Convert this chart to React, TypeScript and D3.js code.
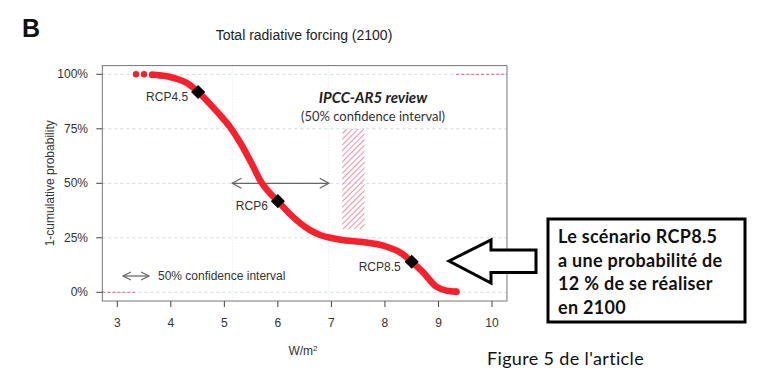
import * as d3 from 'd3';

// 1 - cumulative probability of total radiative forcing in 2100 (W/m²)
const forcing = [3.35, 3.5, 3.65, 3.8, 3.95, 4.1, 4.3, 4.51, 4.7, 4.9, 5.1, 5.3, 5.5, 5.69, 5.85, 6.0, 6.2, 6.4, 6.6, 6.8, 7.0, 7.2, 7.53, 8.03, 8.3, 8.5, 8.7, 8.96, 9.15, 9.33];
const prob = [1.0, 1.0, 0.998, 0.995, 0.99, 0.98, 0.96, 0.919, 0.872, 0.818, 0.76, 0.685, 0.595, 0.505, 0.455, 0.418, 0.365, 0.32, 0.285, 0.262, 0.249, 0.24, 0.232, 0.209, 0.18, 0.14, 0.095, 0.026, 0.008, 0.003];

const rcpNames = ['RCP4.5', 'RCP6', 'RCP8.5'];
const rcpX = [4.51, 6.0, 8.5];
const rcpY = [0.919, 0.418, 0.14];

const xTicks = [3, 4, 5, 6, 7, 8, 9, 10];
const yTicks = [0, 0.25, 0.5, 0.75, 1];

const ciLow = 5.15, ciHigh = 6.95;       // 50% CI of the distribution
const ipccLow = 7.2, ipccHigh = 7.62;    // IPCC-AR5 50% CI
const ipccTop = 0.75, ipccBottom = 0.29;

const boxLines = ['Le scénario RCP8.5', 'a une probabilité de', '12 % de se réaliser', 'en 2100'];

const W = 758, H = 374;
const x = d3.scaleLinear().domain([3, 10]).range([117.3, 492]);
const y = d3.scaleLinear().domain([0, 1]).range([292.3, 74.3]);

const RED = '#fb1f2c';
const TXT = '#333';
const AX = "'Liberation Sans', Arial, sans-serif";
const CAL = "Lato, 'Open Sans', sans-serif";

export default function App() {
  const left = x(2.72), right = x(10.28), top = y(1.04), bottom = y(-0.04);
  const pts = forcing.map((f, i) => [f, prob[i]] as [number, number]);
  const line = d3.line<[number, number]>()
    .x(d => x(d[0]))
    .y(d => y(d[1]))
    .curve(d3.curveMonotoneX);

  const arrowY = y(0.5);
  const head = (px: number, dir: number) =>
    `M${px + dir * 9},${arrowY - 5}L${px},${arrowY}L${px + dir * 9},${arrowY + 5}`;

  return (
    <svg width={W} height={H} style={{ position: 'absolute', left: 0, top: 0, background: '#fff' }}>
      <defs>
        <pattern id="hatch" width="4" height="4" patternUnits="userSpaceOnUse" patternTransform="rotate(45)">
          <line x1="0" y1="0" x2="0" y2="4" stroke="#f4738a" strokeWidth="1.6" />
        </pattern>
      </defs>

      <text x={22} y={37} fontFamily={AX} fontWeight="bold" fontSize={25} fill="#111">B</text>
      <text x={304} y={40} fontFamily={AX} fontSize={14} fill="#222" textAnchor="middle">
        Total radiative forcing (2100)
      </text>

      {/* grid */}
      {yTicks.map(t => (
        <line key={'g' + t} x1={left} x2={right} y1={y(t)} y2={y(t)}
          stroke="#cfdbe3" strokeWidth={1} strokeDasharray="3,3" />
      ))}
      {[ciLow, ciHigh].map(v => (
        <line key={'v' + v} x1={x(v)} x2={x(v)} y1={top} y2={bottom}
          stroke="#dde3e8" strokeWidth={1} strokeDasharray="1,2" />
      ))}

      {/* dotted extensions of the curve */}
      <line x1={left} x2={x(forcing[0])} y1={y(0)} y2={y(0)} stroke="#f4788e" strokeWidth={1.3} strokeDasharray="3,2" />
      <line x1={x(forcing[forcing.length - 1])} x2={right} y1={y(1)} y2={y(1)} stroke="#f4788e" strokeWidth={1.3} strokeDasharray="3,2" />

      {/* IPCC hatched interval */}
      <rect x={x(ipccLow)} y={y(ipccTop)} width={x(ipccHigh) - x(ipccLow)} height={y(ipccBottom) - y(ipccTop)}
        fill="url(#hatch)" />

      {/* 50% CI arrow */}
      <line x1={x(ciLow)} x2={x(ciHigh)} y1={arrowY} y2={arrowY} stroke="#666" strokeWidth={1.3} />
      <path d={head(x(ciLow), 1)} fill="none" stroke="#666" strokeWidth={1.3} />
      <path d={head(x(ciHigh), -1)} fill="none" stroke="#666" strokeWidth={1.3} />

      {/* curve */}
      <path d={line(pts.slice(2)) ?? ''} fill="none" stroke={RED} strokeWidth={6.5} strokeLinecap="round" strokeLinejoin="round" />
      {pts.slice(0, 4).map((p, i) => (
        <circle key={'c' + i} cx={x(p[0])} cy={y(p[1])} r={3.2} fill={RED} />
      ))}
      <circle cx={x(forcing[forcing.length - 1])} cy={y(prob[prob.length - 1])} r={3.5} fill={RED} />

      {/* RCP markers */}
      {rcpX.map((v, i) => (
        <rect key={'d' + i} x={x(v) - 5} y={y(rcpY[i]) - 5} width={10} height={10} fill="#000"
          transform={`rotate(45 ${x(v)} ${y(rcpY[i])})`} />
      ))}
      <text x={x(rcpX[0]) - 10} y={y(rcpY[0]) + 9} fontFamily={AX} fontSize={12} fill={TXT} textAnchor="end">{rcpNames[0]}</text>
      <text x={x(rcpX[1]) - 10} y={y(rcpY[1]) + 9} fontFamily={AX} fontSize={12} fill={TXT} textAnchor="end">{rcpNames[1]}</text>
      <text x={x(rcpX[2]) - 11} y={y(rcpY[2]) + 9} fontFamily={AX} fontSize={12} fill={TXT} textAnchor="end">{rcpNames[2]}</text>

      {/* IPCC label */}
      <text x={373} y={103} fontFamily={CAL} fontSize={15} fontWeight="bold" fontStyle="italic" fill="#222" textAnchor="middle">
        IPCC-AR5 review
      </text>
      <text x={373} y={121} fontFamily={CAL} fontSize={13} fill={TXT} textAnchor="middle">
        (50% confidence interval)
      </text>

      {/* legend */}
      <line x1={123} x2={149} y1={276} y2={276} stroke="#666" strokeWidth={1.2} />
      <path d="M131,272L123,276L131,280M141,272L149,276L141,280" fill="none" stroke="#666" strokeWidth={1.2} />
      <text x={158} y={280} fontFamily={AX} fontSize={12} fill={TXT}>50% confidence interval</text>

      {/* box and axes */}
      <rect x={left} y={top} width={right - left} height={bottom - top} fill="none" stroke="#777" strokeWidth={1} />
      {xTicks.map(t => (
        <g key={'x' + t}>
          <line x1={x(t)} x2={x(t)} y1={bottom} y2={bottom + 6} stroke="#444" />
          <text x={x(t)} y={327} fontFamily={AX} fontSize={12} fill={TXT} textAnchor="middle">{t}</text>
        </g>
      ))}
      {yTicks.map(t => (
        <g key={'y' + t}>
          <line x1={left - 6} x2={left} y1={y(t)} y2={y(t)} stroke="#444" />
          <text x={88} y={y(t) + 4} fontFamily={AX} fontSize={12} fill={TXT} textAnchor="end">{d3.format('.0%')(t)}</text>
        </g>
      ))}
      <text x={303} y={355} fontFamily={AX} fontSize={12} fill={TXT} textAnchor="middle">
        W/m<tspan dy={-4} fontSize={8}>2</tspan>
      </text>
      <text transform={`translate(54,${y(0.5)}) rotate(-90)`} fontFamily={AX} fontSize={12} fill={TXT} textAnchor="middle">
        1-cumulative probability
      </text>

      {/* annotation arrow */}
      <path d="M449,261L491,240L491,250L536,250L536,272.5L491,272.5L491,283Z" fill="#fff" stroke="#000" strokeWidth={3} strokeLinejoin="miter" />

      {/* annotation box */}
      <rect x={548} y={219} width={197} height={103} fill="#fff" stroke="#000" strokeWidth={3} />
      {boxLines.map((s, i) => (
        <text key={'b' + i} x={558} y={243 + i * 23.6} fontFamily={CAL} fontWeight="bold" fontSize={18} letterSpacing={0.3} fill="#111">{s}</text>
      ))}

      <text x={487} y={365} fontFamily={CAL} fontSize={18} letterSpacing={0.35} fill="#111">Figure 5 de l'article</text>
    </svg>
  );
}
